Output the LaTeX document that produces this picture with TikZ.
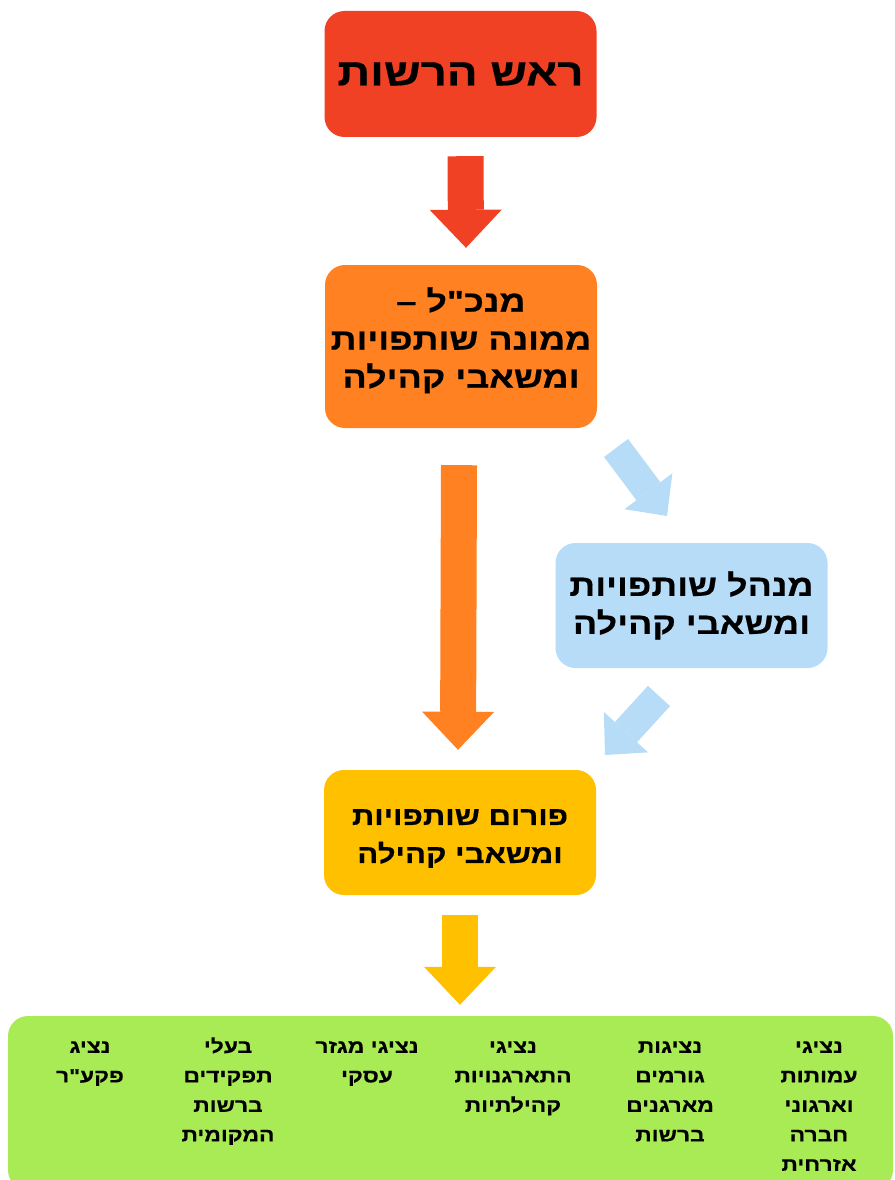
\documentclass[tikz,border=0pt]{standalone}
\usepackage{fontspec}
\newfontfamily\hebfont[Script=Hebrew,FakeStretch=1.2,BoldFeatures={FakeBold=0.5}]{Liberation Sans}
\TeXXeTstate=1
\usetikzlibrary{arrows.meta,positioning}
\definecolor{bossred}{HTML}{F04125}
\definecolor{dgorange}{HTML}{FF8122}
\definecolor{mgrblue}{HTML}{B6DCF8}
\definecolor{forumyellow}{HTML}{FFC000}
\definecolor{repsgreen}{HTML}{A9EB55}
\newcommand{\heb}[1]{\beginR #1\endR}
\newcommand{\rep}[1]{\strut\heb{#1}}
\newcommand{\low}[1]{\raisebox{-6pt}[\height][\depth]{\heb{#1}}}
\tikzset{
  box/.style={rounded corners=20pt, inner sep=0pt, align=center,
    minimum width=272pt, font=\hebfont\bfseries\fontsize{30}{38}\selectfont},
  reptext/.style={anchor=north, inner sep=0pt, align=center,
    font=\hebfont\bfseries\fontsize{19}{29.5}\selectfont},
  bigarrow/.style={line width=36pt, -{Triangle[width=72pt,length=38pt,line width=0pt]}},
  slantarrow/.style={mgrblue, line width=30pt, -{Triangle[width=60pt,length=31pt,line width=0pt]}}
}
\begin{document}
\begin{tikzpicture}[x=1pt,y=1pt]
\useasboundingbox (0,0) rectangle (894,-1180);
% boxes
\node[box, fill=bossred, minimum height=126pt, font=\hebfont\bfseries\fontsize{38}{44}\selectfont] (boss) at (460.5,-74) {\heb{ראש הרשות}};
\node[box, fill=dgorange, minimum height=163pt] (dg) at (461,-346.5) {\heb{מנכ"ל –}\\\heb{ממונה שותפויות}\\\heb{ומשאבי קהילה}\\[-20pt]};
\node[box, fill=mgrblue, minimum height=125pt] (mgr) at (691.5,-605.5) {\heb{מנהל שותפויות}\\\heb{ומשאבי קהילה}};
\node[box, fill=forumyellow, minimum height=125pt, font=\hebfont\bfseries\fontsize{26}{38}\selectfont] (forum) at (460,-832.5) {\low{פורום שותפויות}\\\low{ומשאבי קהילה}};
\node[box, fill=repsgreen, minimum width=885pt, minimum height=174pt] (reps) at (450.5,-1103) {};
% members of the forum
\node[reptext] (amutot) at (819,-1032) {\rep{נציגי}\\\rep{עמותות}\\\rep{וארגוני}\\\rep{חברה}\\\rep{אזרחית}};
\node[reptext] (gormim) at (670,-1032) {\rep{נציגות}\\\rep{גורמים}\\\rep{מארגנים}\\\rep{ברשות}};
\node[reptext] (hitargen) at (513,-1032) {\rep{נציגי}\\\rep{התארגנויות}\\\rep{קהילתיות}};
\node[reptext] (iski) at (367,-1032) {\rep{נציגי מגזר}\\\rep{עסקי}};
\node[reptext] (tafkid) at (228,-1032) {\rep{בעלי}\\\rep{תפקידים}\\\rep{ברשות}\\\rep{המקומית}};
\node[reptext] (pkar) at (90,-1032) {\rep{נציג}\\\rep{פקע"ר}};
% arrows
\draw[bigarrow, bossred] ([xshift=5pt,yshift=-19pt]boss.south) -- ([xshift=5pt,yshift=17pt]dg.north);
\draw[bigarrow, dgorange] ([xshift=-2pt,yshift=-37pt]dg.south) -- ([xshift=-2pt,yshift=20pt]forum.north);
\path (forum.south |- reps.north) ++(0,11) coordinate (repstop);
\draw[bigarrow, forumyellow] ([yshift=-20pt]forum.south) -- (repstop);
\coordinate (dgout) at (616,-448);
\coordinate (mgrin) at (667,-516);
\coordinate (mgrout) at (659,-696);
\coordinate (forumin) at (605,-755);
\draw[slantarrow] (dgout) -- (mgrin);
\draw[slantarrow] (mgrout) -- (forumin);
\end{tikzpicture}
\end{document}
